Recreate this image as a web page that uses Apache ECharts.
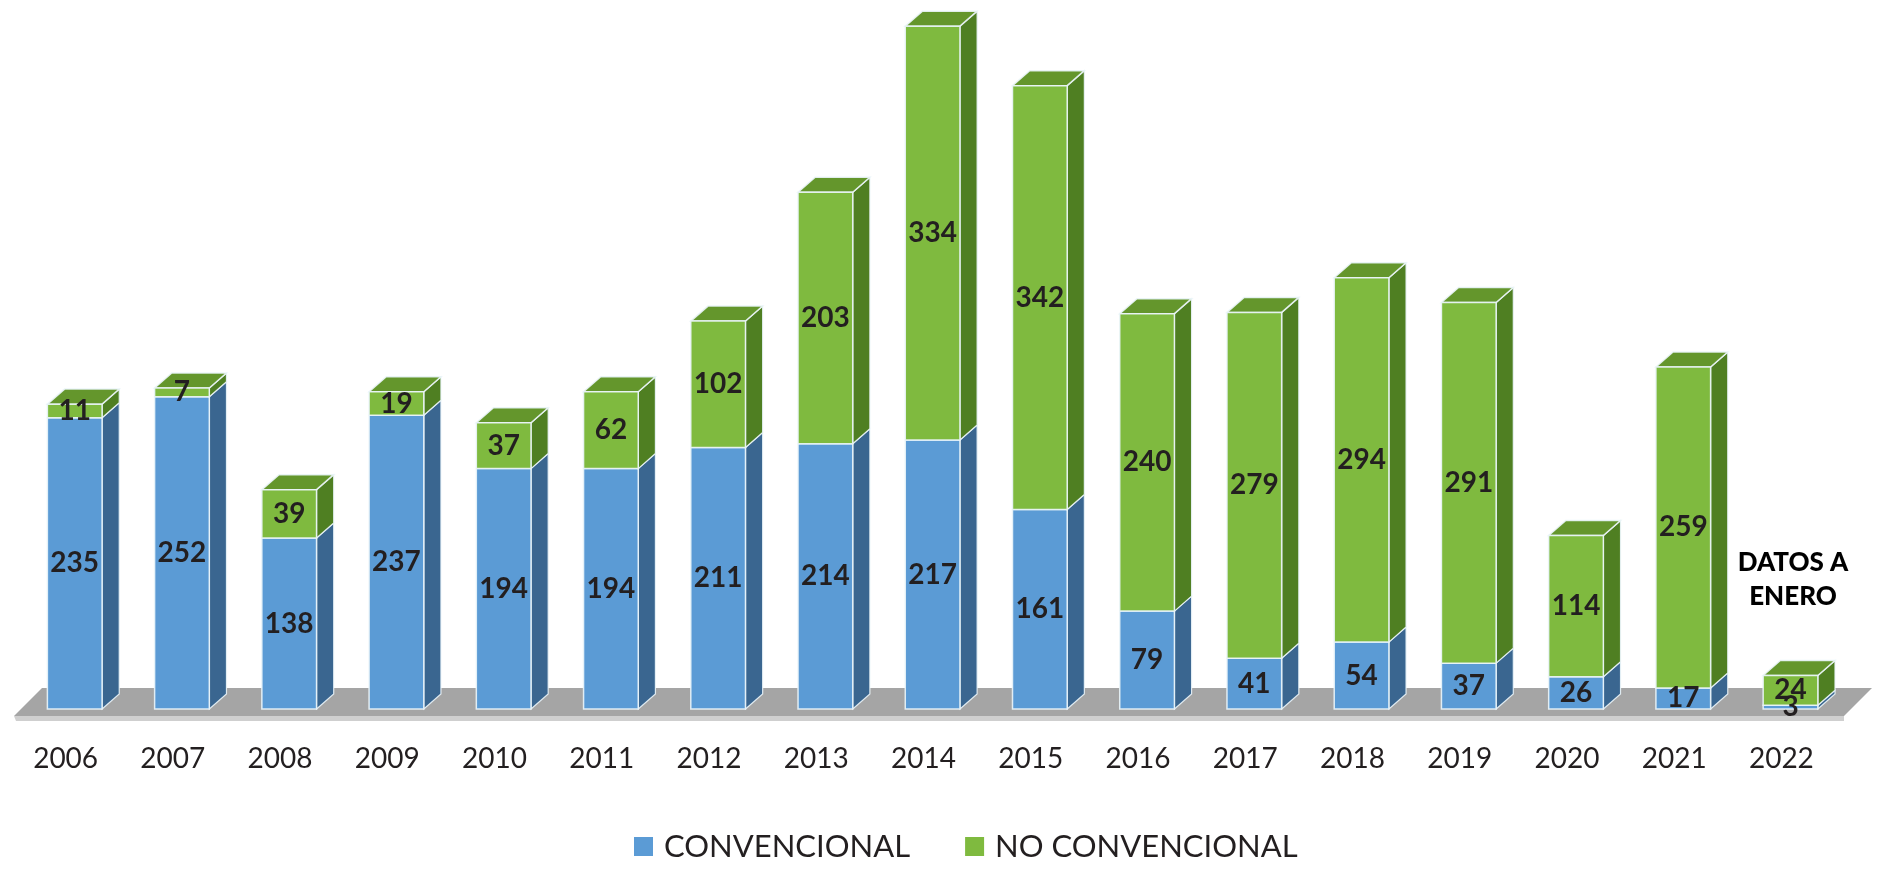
<!DOCTYPE html>
<html>
<head>
<meta charset="utf-8">
<script src="https://cdn.jsdelivr.net/npm/echarts@6/dist/echarts.min.js"></script>
<style>
html,body{margin:0;padding:0;background:#fff;}
#chart{width:1890px;height:869px;}
</style>
</head>
<body>
<div id="chart"></div>
<script>
const years = ['2006','2007','2008','2009','2010','2011','2012','2013','2014','2015','2016','2017','2018','2019','2020','2021','2022'];
const convencional = [235,252,138,237,194,194,211,214,217,161,79,41,54,37,26,17,3];
const noConvencional = [11,7,39,19,37,62,102,203,334,342,240,279,294,291,114,259,24];

const BLUE = '#5b9bd5', BLUE_SIDE = '#3a6690', BLUE_TOP = '#4a7fb0';
const GREEN = '#7fba3f', GREEN_SIDE = '#4f7f22', GREEN_TOP = '#64962c';
const EDGE = 'rgba(235,245,250,0.9)';

function makeRender(front, side, topc, isTop) {
  return function (params, api) {
    const idx = api.value(0);
    const bottom = api.value(1);
    const top = api.value(2);
    const pTop = api.coord([idx, top]);
    const pBot = api.coord([idx, bottom]);
    const bw = api.size([1, 0])[0];
    const w = bw * 0.51;
    const cx = pTop[0] + bw * 0.085;
    const dx = bw * 0.16, dy = bw * 0.14;
    const yT = pTop[1], yB = pBot[1];
    const L = cx - w / 2, R = cx + w / 2;
    const children = [];
    children.push({
      type: 'polygon',
      shape: { points: [[R, yB], [R + dx, yB - dy], [R + dx, yT - dy], [R, yT]] },
      style: { fill: side, stroke: EDGE, lineWidth: 1.2 }
    });
    if (isTop) {
      children.push({
        type: 'polygon',
        shape: { points: [[L, yT], [L + dx, yT - dy], [R + dx, yT - dy], [R, yT]] },
        style: { fill: topc, stroke: EDGE, lineWidth: 1.5 }
      });
    }
    children.push({
      type: 'rect',
      shape: { x: L, y: yT, width: w, height: yB - yT },
      style: { fill: front, stroke: EDGE, lineWidth: 1.5 }
    });
    children.push({
      type: 'text',
      z2: 10,
      style: {
        text: String(top - bottom),
        x: cx, y: (yT + yB) / 2,
        align: 'center', verticalAlign: 'middle',
        font: 'bold 28px Lato, "Open Sans", sans-serif',
        fill: '#231f20'
      }
    });
    return { type: 'group', children: children };
  };
}

const convData = years.map((y, i) => [i, 0, convencional[i]]);
const ncData = years.map((y, i) => [i, convencional[i], convencional[i] + noConvencional[i]]);

const chart = echarts.init(document.getElementById('chart'));
chart.setOption({
  animation: false,
  backgroundColor: '#ffffff',
  grid: { left: 12, right: 55, top: 15, bottom: 160 },
  xAxis: {
    type: 'category',
    data: years,
    axisLine: { show: false },
    axisTick: { show: false },
    axisLabel: { margin: 36, fontSize: 28, color: '#231f20', fontFamily: 'Lato, "Open Sans", sans-serif' }
  },
  yAxis: { type: 'value', min: 0, max: 560, show: false, splitLine: { show: false } },
  legend: {
    bottom: 2,
    left: 629,
    itemWidth: 19, itemHeight: 19, itemGap: 55,
    icon: 'rect',
    textStyle: { fontSize: 31, color: '#231f20', fontFamily: 'Lato, "Open Sans", sans-serif', padding: [0, 0, 0, 6] },
    data: ['CONVENCIONAL', 'NO CONVENCIONAL']
  },
  graphic: [
    {
      type: 'polygon', z: 0,
      shape: { points: [[14, 716], [42, 688], [1872, 688], [1844, 716]] },
      style: { fill: '#a5a5a5' }
    },
    {
      type: 'polygon', z: 0,
      shape: { points: [[14, 716], [1844, 716], [1844, 721], [16, 721]] },
      style: { fill: '#cfcfcf' }
    },
    {
      type: 'text', z: 100,
      style: {
        text: 'DATOS A\nENERO',
        x: 1793, y: 580,
        align: 'center', verticalAlign: 'middle',
        font: '900 26px Lato, "Open Sans", sans-serif',
        lineHeight: 34,
        fill: '#000'
      }
    }
  ],
  series: [
    {
      name: 'CONVENCIONAL', type: 'custom',
      itemStyle: { color: BLUE },
      renderItem: makeRender(BLUE, BLUE_SIDE, BLUE_TOP, false),
      encode: { x: 0, y: [1, 2] },
      data: convData
    },
    {
      name: 'NO CONVENCIONAL', type: 'custom',
      itemStyle: { color: GREEN },
      renderItem: makeRender(GREEN, GREEN_SIDE, GREEN_TOP, true),
      encode: { x: 0, y: [1, 2] },
      data: ncData
    }
  ]
});
</script>
</body>
</html>
